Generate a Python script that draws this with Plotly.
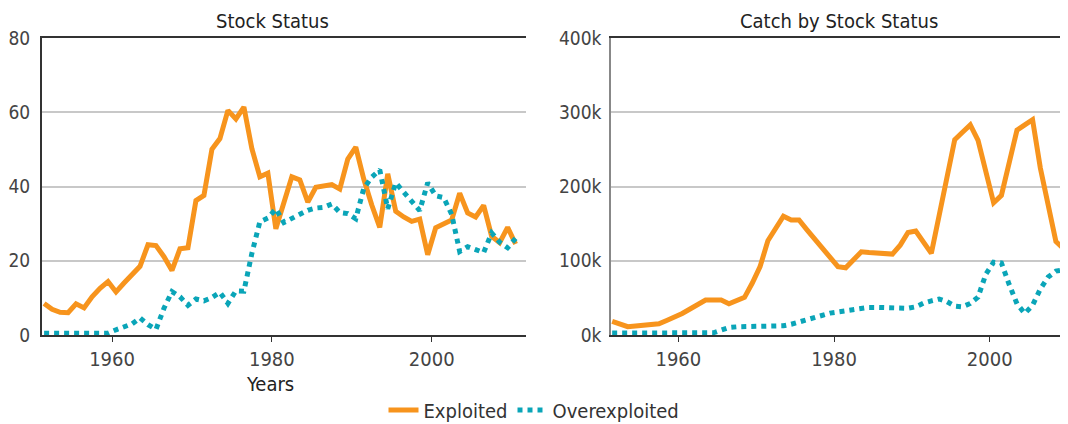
import plotly.graph_objects as go

years = list(range(1951, 2011))

# Stock status (number of stocks)
exploited_stocks = [8.5, 6.9, 6.1, 6.0, 8.4, 7.3, 10.3, 12.6, 14.4, 11.6,
                    14.0, 16.3, 18.5, 24.3, 24.1, 21.1, 17.4, 23.2, 23.5, 36.2,
                    37.6, 50.0, 52.9, 60.5, 58.2, 61.4, 50.2, 42.6, 43.6, 28.6,
                    35.3, 42.6, 41.8, 35.8, 39.8, 40.3, 40.5, 39.3, 47.4, 50.6,
                    42.0, 35.0, 29.0, 43.4, 33.3, 31.8, 30.6, 31.2, 21.6, 28.9,
                    30.0, 31.0, 38.2, 32.9, 31.8, 34.9, 26.6, 24.9, 29.0, 24.5]
overexploited_stocks = [0.5, 0.5, 0.5, 0.5, 0.5, 0.5, 0.5, 0.5, 0.5, 1.4,
                        2.2, 3.0, 4.6, 2.8, 1.5, 7.2, 11.7, 10.3, 8.0, 9.7,
                        9.2, 10.1, 11.5, 8.5, 11.9, 11.8, 22.0, 30.5, 31.5, 34.0,
                        30.3, 31.4, 32.5, 33.6, 34.2, 34.4, 35.3, 33.0, 32.7, 31.3,
                        39.5, 42.5, 44.5, 34.0, 41.0, 38.5, 35.5, 33.5, 41.0, 37.5,
                        37.0, 32.5, 22.5, 23.8, 23.0, 22.2, 27.5, 25.0, 23.5, 26.0]

# Catch by stock status (tonnes)
exploited_catch = [18400, 15000, 11200, 12000, 13000, 14000, 15000, 19500, 24000, 29000,
                   35000, 41000, 47000, 47000, 47000, 42000, 46000, 50700, 70000, 92000,
                   127000, 145000, 160000, 155000, 155000, 142000, 129000, 117000, 104000, 92000,
                   90500, 101000, 112000, 111000, 110000, 109500, 109000, 121000, 138000, 140000,
                   125000, 110000, 161000, 212000, 263000, 273000, 283000, 262000, 220000, 178000,
                   188000, 232000, 276000, 283000, 290000, 225000, 172000, 126000, 116000, 65000]
overexploited_catch = [2700, 2700, 2700, 2700, 2700, 2700, 2700, 2700, 2700, 2700,
                       2700, 2700, 2700, 3000, 6500, 10000, 11000, 11200, 11500, 12000,
                       12000, 12000, 12500, 14500, 17500, 20500, 24000, 27000, 29500, 31000,
                       32700, 34500, 36000, 37200, 37200, 37200, 37200, 37000, 36000, 38000,
                       43000, 46000, 48500, 45000, 39000, 38000, 42500, 51000, 82000, 98000,
                       97000, 68000, 42000, 29000, 40000, 62000, 78000, 86000, 88000, 93000]

# points sit in the middle of each year
x = [y + 0.5 for y in years]

ORANGE = "#F7941D"
BLUE = "#0AA5B8"
FONT = "DejaVu Sans Condensed, DejaVu Sans, sans-serif"
W, H = 1068, 424

fig = go.Figure()
fig.add_trace(go.Scatter(x=x, y=exploited_stocks, mode="lines", name="Exploited",
                         line=dict(color=ORANGE, width=5), xaxis="x", yaxis="y"))
fig.add_trace(go.Scatter(x=x, y=overexploited_stocks, mode="lines", name="Overexploited",
                         line=dict(color=BLUE, width=5, dash="dot"), xaxis="x", yaxis="y"))
fig.add_trace(go.Scatter(x=x, y=exploited_catch, mode="lines", name="Exploited", showlegend=False,
                         line=dict(color=ORANGE, width=5), xaxis="x2", yaxis="y2"))
fig.add_trace(go.Scatter(x=x, y=overexploited_catch, mode="lines", name="Overexploited", showlegend=False,
                         line=dict(color=BLUE, width=5, dash="dot"), xaxis="x2", yaxis="y2"))

xcommon = dict(showgrid=False, zeroline=False, showline=True, linecolor="#333", linewidth=1.5,
               mirror=True, ticks="outside", ticklen=5, tickcolor="#333", tickwidth=1,
               automargin=False, tickvals=[1960, 1980, 2000], tickfont=dict(size=20, color="#444"))
ycommon = dict(showgrid=True, gridcolor="#c8c8c8", gridwidth=1.5, zeroline=False, showline=True,
               linewidth=1.5, ticks="", ticklen=0, automargin=False,
               tickfont=dict(size=19, color="#444"))

# the page body adds an 8px offset, so everything is placed 8px up/left
fig.update_layout(
    template="none",
    width=W, height=H,
    margin=dict(l=0, r=0, t=30, b=97),
    paper_bgcolor="white", plot_bgcolor="white",
    font=dict(family=FONT, color="#333", size=20),
    xaxis=dict(domain=[33.7 / W, 518 / W], range=[1951.2, 2011.8], anchor="y", **xcommon),
    yaxis=dict(domain=[0, 1], range=[0, 80], tickvals=[0, 20, 40, 60, 80], anchor="x",
               linecolor="#333", ticklabelstandoff=6, **ycommon),
    xaxis2=dict(domain=[603 / W, 1.0], range=[1951.35, 2011.08], anchor="y2", **xcommon),
    yaxis2=dict(domain=[0, 1], range=[0, 400000], tickvals=[0, 100000, 200000, 300000, 400000],
                ticktext=["0k", "100k", "200k", "300k", "400k"], anchor="x2",
                linecolor="#888", ticklabelstandoff=4, **ycommon),
    legend=dict(orientation="h", xref="container", yref="container", x=526 / W, xanchor="center",
                y=(H - 402) / H, yanchor="middle", font=dict(size=20, color="#333"),
                bgcolor="rgba(0,0,0,0)"),
    annotations=[
        dict(text="Stock Status", x=264 / W, y=1.057, xref="paper", yref="paper",
             xanchor="center", yanchor="middle", showarrow=False, font=dict(size=20, color="#222")),
        dict(text="Catch by Stock Status", x=831 / W, y=1.057, xref="paper", yref="paper",
             xanchor="center", yanchor="middle", showarrow=False, font=dict(size=20, color="#222")),
        dict(text="Years", x=262 / W, y=-0.165, xref="paper", yref="paper",
             xanchor="center", yanchor="middle", showarrow=False, font=dict(size=20, color="#222")),
    ],
)

fig.write_html("out.html")
